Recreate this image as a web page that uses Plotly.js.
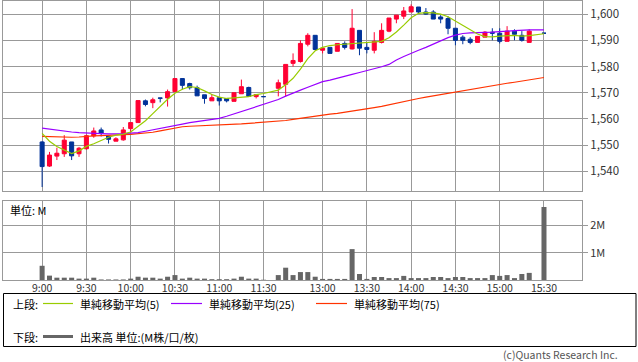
<!DOCTYPE html>
<html><head><meta charset="utf-8">
<script src="https://cdn.plot.ly/plotly-3.0.1.min.js"></script>
<style>html,body{margin:0;padding:0;background:#fff;}#chart{width:638px;height:362px;}</style>
</head><body><div id="chart"></div>
<script>
// ---- data (5-minute bars) ----
const times = ["9:00","9:05","9:10","9:15","9:20","9:25","9:30","9:35","9:40","9:45","9:50","9:55",
"10:00","10:05","10:10","10:15","10:20","10:25","10:30","10:35","10:40","10:45","10:50","10:55",
"11:00","11:05","11:10","11:15","11:20","11:25","11:30",
"12:30","12:35","12:40","12:45","12:50","12:55",
"13:00","13:05","13:10","13:15","13:20","13:25","13:30","13:35","13:40","13:45","13:50","13:55",
"14:00","14:05","14:10","14:15","14:20","14:25","14:30","14:35","14:40","14:45","14:50","14:55",
"15:00","15:05","15:10","15:15","15:20","15:30"];
const openP = [1551.2,1542,1545.8,1546.7,1551.2,1546.7,1548.6,1553.5,1555.8,1553.5,1551.5,1552,
1556.3,1558.6,1566.9,1566.2,1568,1568,1570.4,1575.4,1573.5,1571.9,1569.2,1566.9,
1568.1,1567.8,1566.7,1569.6,1572,1568.5,1568.5,
1571.7,1573.2,1581.2,1581.9,1588.5,1591.9,
1586.2,1587.3,1585.8,1588.8,1586.7,1593.8,1587.3,1586.2,1589.2,1593.5,1598.1,1599.2,
1600.8,1602.7,1600.8,1600.8,1598.9,1598.3,1594.6,1591.2,1590.4,1589.2,1591.2,1593.1,
1592.7,1589.6,1593.5,1591.9,1589.2,1592.7];
const highP = [1551.5,1547.4,1549,1553.8,1551.2,1549.3,1554,1556.7,1556.7,1553.5,1553,1556.9,
1558.6,1567,1567.4,1568.1,1568,1571.2,1575.4,1575.4,1573.8,1572.7,1569.2,1569.5,
1568.1,1567.8,1570,1575,1572.3,1569.4,1568.5,
1575,1580.8,1585,1590,1592.7,1591.9,
1587,1587.3,1588.8,1589.6,1601.9,1593.8,1589.2,1593.1,1596.5,1598.5,1599.6,1602.7,
1603.7,1602.7,1602.3,1601.5,1599.6,1599.2,1594.6,1591.9,1591.2,1591.5,1593.5,1594.6,
1594.6,1595.4,1594.2,1593.5,1594.2,1592.7];
const lowP = [1534,1541.7,1544.3,1545.5,1544.3,1545.5,1548.3,1552.8,1553.3,1550.6,1551.5,1551.7,
1554.7,1558.6,1564.8,1564.1,1566.3,1564.7,1570.4,1571.2,1571.2,1568.8,1565.8,1566.9,
1565.1,1566.3,1566.7,1569.6,1568.6,1567.8,1568.5,
1568.6,1568.6,1580,1581.5,1587.7,1586.2,
1585,1585,1585.8,1586.5,1586.5,1584.3,1585,1585,1588.8,1593.1,1596.5,1598.1,
1600.8,1600.3,1599.7,1598.1,1596.5,1592.3,1588.1,1588.5,1588.5,1589.2,1591.2,1590,
1588.8,1589.6,1590,1589.5,1589.2,1592.7];
const closeP = [1541.8,1546.2,1546.9,1551.9,1545.9,1548.8,1553.6,1555.4,1554.6,1552.2,1552.4,1555.8,
1558.6,1567,1565.5,1567.3,1567.9,1570.4,1575.4,1572.8,1571.9,1568.8,1567.8,1568.1,
1566.9,1566.9,1570,1572.3,1568.6,1569.3,1568.5,
1573.8,1580.8,1582.3,1588.8,1591.9,1586.5,
1587,1585,1588.8,1587.3,1594.6,1587,1586.5,1589.6,1593.8,1598.5,1599.6,1601.2,
1602.8,1600.8,1600,1598.1,1598.1,1594.6,1590,1590,1589.2,1591.5,1593.1,1592.7,
1589.6,1593.5,1592.3,1590,1593.5,1592.7];
const volumeM = [0.52,0.16,0.085,0.085,0.085,0.05,0.05,0.085,0.02,0.02,0.02,0.02,
0.05,0.12,0.085,0.085,0.05,0.12,0.18,0.05,0.085,0.05,0.05,0.03,
0.03,0.03,0.05,0.12,0.05,0.05,0.01,
0.18,0.45,0.18,0.29,0.29,0.12,
0.04,0.04,0.04,0.04,1.13,0.22,0.04,0.11,0.11,0.07,0.07,0.15,
0.07,0.07,0.07,0.11,0.11,0.07,0.11,0.11,0.07,0.07,0.07,0.18,
0.15,0.18,0.07,0.22,0.26,2.67];
const ma5 = [1554.5,1551.5,1549.5,1548,1546.8,1547.8,1549.5,1550.5,1551.8,1553,1553.8,1554.2,
1555,1557,1559.3,1562,1564.7,1567.5,1569.8,1571.3,1572.3,1572,1570.7,1569.3,
1568.3,1567.8,1568,1568.3,1568.5,1569.3,1569.7,
1571,1573,1575.5,1579,1583,1586,
1587.3,1588,1588.3,1588.5,1588.8,1589,1589.1,1589.2,1589.6,1591,1593.2,1595.8,
1598.6,1600.3,1600.6,1600.5,1600,1599,1597.3,1595.8,1594.2,1592.4,1591.4,1591.3,
1591.6,1591.8,1591.9,1591.6,1591.8,1592.5];
const ma25 = [1556.5,1556.1,1555.7,1555.3,1555,1554.8,1554.6,1554.5,1554.4,1554.3,1554.3,1554.4,
1554.6,1554.8,1555.3,1555.8,1556.3,1556.8,1557.4,1558,1558.6,1559,1559.5,1559.8,
1560.2,1561,1561.9,1562.7,1563.6,1564.6,1565.5,
1567.4,1568.7,1570,1571,1572.1,1573.2,
1574.2,1574.8,1575.6,1576.3,1577,1577.7,1578.4,1579.1,1579.9,1580.8,1582.5,1583.8,
1585.1,1586.2,1587.3,1588.6,1590,1591,1592,1592.6,1592.8,1593,1593,1593.1,
1593.2,1593.5,1593.7,1593.9,1594,1594];
const ma75 = [1553.3,1553.2,1553.1,1553,1553,1553.1,1553.4,1553.5,1553.6,1553.8,1553.9,1554,
1554.1,1554.3,1554.6,1554.9,1555.4,1555.9,1556.5,1557,1557.2,1557.3,1557.4,1557.5,
1557.6,1557.7,1557.9,1558.1,1558.3,1558.5,1558.7,
1559.1,1559.4,1559.8,1560.2,1560.7,1561.2,
1561.5,1561.8,1562.1,1562.5,1562.9,1563.4,1563.8,1564.3,1564.8,1565.4,1566.2,1566.8,
1567.3,1567.8,1568.3,1568.8,1569.3,1569.8,1570.3,1570.8,1571.3,1571.8,1572.2,1572.7,
1573.2,1573.6,1574,1574.4,1574.8,1575.8];
const timeTicks = ["9:00","9:30","10:00","10:30","11:00","11:30","13:00","13:30","14:00","14:30","15:00","15:30"];
const priceTicks = [1540,1550,1560,1570,1580,1590,1600];
const volTicks = [1,2];
const volTickText = ["1M","2M"];

// ---- helpers ----
function slotOf(t){ const p=t.split(":").map(Number); const m=p[0]*60+p[1]; return m<=690 ? (m-540)/5 : 32+(m-750)/5; }
const xs = times.map(slotOf);
const W=638,H=362,L=3,R=56,T=1,B=82,PW=W-L-R,PH=H-T-B;
const px = x => (x-L)/PW, py = y => (H-B-y)/PH;
const UP="#ff0033", DN="#003399", GRID="#999999";
const C5="#99cc00", C25="#9900ff", C75="#ff3300";
const FONT="'Noto Sans CJK JP','Noto Sans',sans-serif";

const traces = [
 {type:"candlestick", x:xs, open:openP, high:highP, low:lowP, close:closeP, xaxis:"x", yaxis:"y",
  increasing:{line:{color:UP,width:1}, fillcolor:UP}, decreasing:{line:{color:DN,width:1}, fillcolor:DN},
  whiskerwidth:0, hoverinfo:"skip", showlegend:false},
 {type:"scatter", mode:"lines", x:xs, y:ma75, line:{color:C75,width:1.2}, xaxis:"x", yaxis:"y", showlegend:false, hoverinfo:"skip"},
 {type:"scatter", mode:"lines", x:xs, y:ma25, line:{color:C25,width:1.2}, xaxis:"x", yaxis:"y", showlegend:false, hoverinfo:"skip"},
 {type:"scatter", mode:"lines", x:xs, y:ma5, line:{color:C5,width:1.2}, xaxis:"x", yaxis:"y", showlegend:false, hoverinfo:"skip"},
 {type:"bar", x:xs, y:volumeM, width:0.68, marker:{color:"#666666",line:{width:0}}, xaxis:"x2", yaxis:"y2", showlegend:false, hoverinfo:"skip"}
];

const xr = [-5.3, 73.15];
const tickSlots = timeTicks.map(slotOf);
const axBase = {showgrid:true, gridcolor:GRID, gridwidth:1, zeroline:false, showline:true, mirror:true, linecolor:GRID, linewidth:1};
const legendFont = {size:11,color:"#000"};
function ann(text,x,y,anchor,font){ return {text:text, xref:"paper", yref:"paper", x:px(x), y:py(y), xanchor:anchor, yanchor:"middle", showarrow:false, font:font||legendFont}; }
function seg(x0,x1,y,color,w){ return {type:"line", xref:"paper", yref:"paper", x0:px(x0), x1:px(x1), y0:py(y), y1:py(y), line:{color:color,width:w}}; }
const layout = {
 width:W, height:H, margin:{l:L,r:R,t:T,b:B,pad:0}, paper_bgcolor:"#fff", plot_bgcolor:"#fff",
 font:{family:FONT, size:11, color:"#333"}, showlegend:false, boxgap:0.22,
 xaxis:Object.assign({}, axBase, {range:xr, tickvals:tickSlots, showticklabels:false, ticks:"", anchor:"y", rangeslider:{visible:false}}),
 yaxis:Object.assign({}, axBase, {domain:[py(190.7),1], range:[1532.6,1605], tickvals:priceTicks, tickformat:",d", side:"right", ticks:"outside", ticklen:5, tickcolor:GRID, tickfont:{size:11.5,color:"#333"}, anchor:"x"}),
 xaxis2:Object.assign({}, axBase, {range:xr, tickvals:tickSlots, ticktext:timeTicks, ticks:"", ticklabelstandoff:-2, tickfont:{size:10.5,color:"#333"}, anchor:"y2"}),
 yaxis2:Object.assign({}, axBase, {domain:[0,py(201)], range:[0,2.89], tickvals:volTicks, ticktext:volTickText, side:"right", ticks:"outside", ticklen:5, tickcolor:GRID, tickfont:{size:11,color:"#333"}, anchor:"x2"}),
 shapes:[
  {type:"rect", xref:"paper", yref:"paper", x0:px(3.5), x1:px(636), y0:py(346.5), y1:py(293.5), line:{color:"#000",width:1}},
  seg(43,73,303.5,C5,1.2), seg(171,202,303.5,C25,1.2), seg(316,347,303.5,C75,1.2), seg(43,73,336.5,"#666666",3)
 ],
 annotations:[
  ann("単位: M",8,210,"left"),
  ann("上段:",11,303.5,"left"),
  ann("単純移動平均(5)",78,303.5,"left"),
  ann("単純移動平均(25)",207,303.5,"left"),
  ann("単純移動平均(75)",352,303.5,"left"),
  ann("下段:",11,336.5,"left"),
  ann("出来高 単位:(M株/口/枚)",78,336.5,"left"),
  ann("(c)Quants Research Inc.",620,354.5,"right",{size:10.5,color:"#555"})
 ]
};
Plotly.newPlot("chart", traces, layout, {staticPlot:true, displayModeBar:false});
</script></body></html>
